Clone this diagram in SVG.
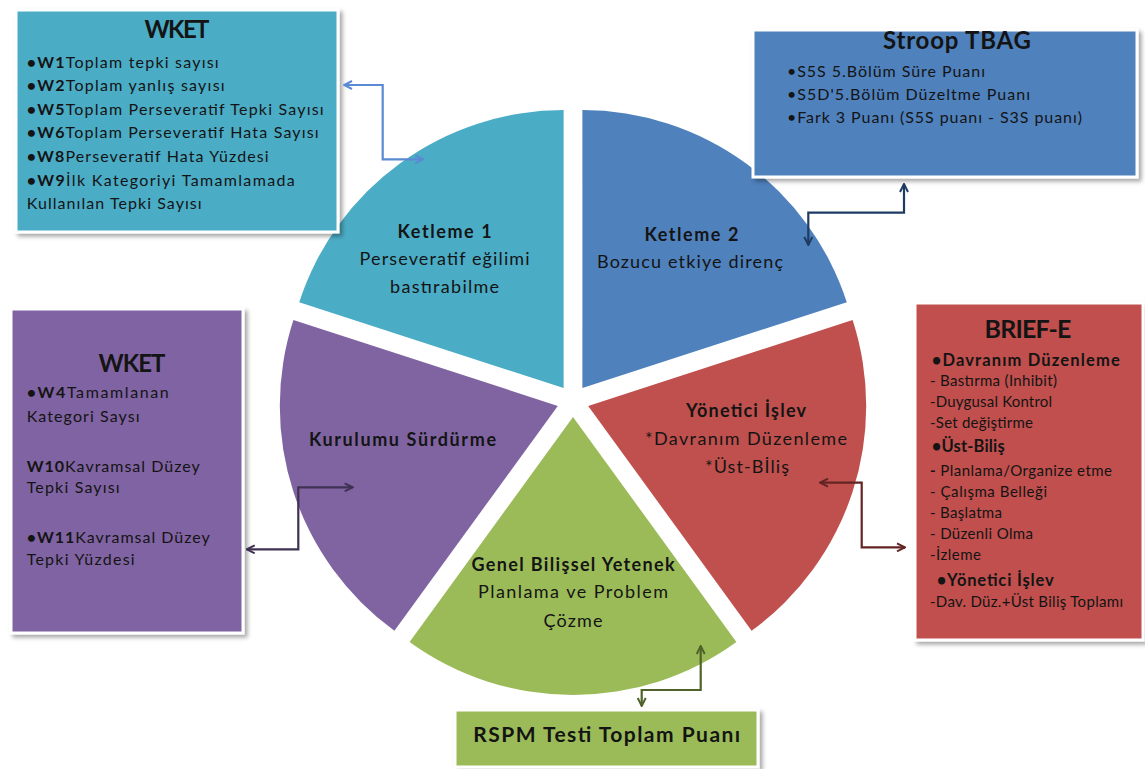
<svg xmlns="http://www.w3.org/2000/svg" width="1145" height="769" viewBox="0 0 1145 769">
<style>
.t{font-family:Lato,"Liberation Sans",Arial,sans-serif;fill:#141414}
.b{font-weight:bold}
.box{stroke:#ffffff;stroke-width:3;filter:url(#sh)}
.c{fill:none;stroke-width:2.2;stroke-linejoin:miter}
.s15{font-size:16px}.s14{font-size:15px}.s16{font-size:16.5px}.s17{font-size:18px}.s23{font-size:24px}
.m{text-anchor:middle}
</style>
<defs>
<filter id="sh" x="-10%" y="-10%" width="125%" height="125%"><feDropShadow dx="3" dy="3" stdDeviation="2" flood-color="#000" flood-opacity="0.35"/></filter>
<marker id="aT" viewBox="0 0 10 10" refX="9" refY="5" markerWidth="10" markerHeight="10" markerUnits="userSpaceOnUse" orient="auto-start-reverse"><path d="M1,1 L9,5 L1,9" fill="none" stroke="#5A8AD2" stroke-width="2"/></marker>
<marker id="aB" viewBox="0 0 10 10" refX="9" refY="5" markerWidth="10" markerHeight="10" markerUnits="userSpaceOnUse" orient="auto-start-reverse"><path d="M1,1 L9,5 L1,9" fill="none" stroke="#1F3B63" stroke-width="2"/></marker>
<marker id="aP" viewBox="0 0 10 10" refX="9" refY="5" markerWidth="10" markerHeight="10" markerUnits="userSpaceOnUse" orient="auto-start-reverse"><path d="M1,1 L9,5 L1,9" fill="none" stroke="#3F3151" stroke-width="2"/></marker>
<marker id="aR" viewBox="0 0 10 10" refX="9" refY="5" markerWidth="10" markerHeight="10" markerUnits="userSpaceOnUse" orient="auto-start-reverse"><path d="M1,1 L9,5 L1,9" fill="none" stroke="#632523" stroke-width="2"/></marker>
<marker id="aG" viewBox="0 0 10 10" refX="9" refY="5" markerWidth="10" markerHeight="10" markerUnits="userSpaceOnUse" orient="auto-start-reverse"><path d="M1,1 L9,5 L1,9" fill="none" stroke="#4F6228" stroke-width="2"/></marker>
</defs>
<rect width="1145" height="769" fill="#ffffff"/>

<g id="pie-ketleme1">
<path d="M563.6,388.1 L299.2,302.2 A278,278 0 0 1 563.6,110.1 Z" fill="#4BACC6"/>
<text class="t b s17 m" x="444.6" y="237.5" textLength="94" lengthAdjust="spacing">Ketleme 1</text>
<text class="t s17 m" x="444.6" y="265" textLength="170" lengthAdjust="spacing">Perseveratif eğilimi</text>
<text class="t s17 m" x="444.6" y="293" textLength="109" lengthAdjust="spacing">bastırabilme</text>
</g>
<g id="pie-ketleme2">
<path d="M582.4,388.1 L582.4,110.1 A278,278 0 0 1 846.8,302.2 Z" fill="#4F81BD"/>
<text class="t b s17 m" x="691.4" y="241" textLength="94" lengthAdjust="spacing">Ketleme 2</text>
<text class="t s17 m" x="690" y="268" textLength="186" lengthAdjust="spacing">Bozucu etkiye direnç</text>
</g>
<g id="pie-yonetici">
<path d="M588.2,405.9 L852.6,320 A278,278 0 0 1 751.6,630.8 Z" fill="#C0504D"/>
<text class="t b s17 m" x="746" y="417" textLength="120" lengthAdjust="spacing">Yönetici İşlev</text>
<text class="t s17 m" x="746" y="444.6" textLength="202" lengthAdjust="spacing">*Davranım Düzenleme</text>
<text class="t s17 m" x="747" y="472.5" textLength="84" lengthAdjust="spacing">*Üst-Bİliş</text>
</g>
<g id="pie-genel">
<path d="M573,417 L736.4,641.9 A278,278 0 0 1 409.6,641.9 Z" fill="#9BBB59"/>
<text class="t b s17 m" x="573" y="571.4" textLength="203" lengthAdjust="spacing">Genel Bilişsel Yetenek</text>
<text class="t s17 m" x="573" y="598.3" textLength="190" lengthAdjust="spacing">Planlama ve Problem</text>
<text class="t s17 m" x="573" y="626.7" textLength="59" lengthAdjust="spacing">Çözme</text>
</g>
<g id="pie-kurulum">
<path d="M557.8,405.9 L394.4,630.8 A278,278 0 0 1 293.4,320 Z" fill="#8064A2"/>
<text class="t b s17 m" x="402.5" y="446.4" textLength="187" lengthAdjust="spacing">Kurulumu Sürdürme</text>
</g>

<g id="box-wket1">
<rect class="box" x="16" y="10" width="322" height="222" fill="#4BACC6"/>
<text class="t b s23 m" x="177" y="38" textLength="65" lengthAdjust="spacing">WKET</text>
<text class="t s15" x="26.7" y="67.5" textLength="192" lengthAdjust="spacing"><tspan class="b">•W1</tspan>Toplam tepki sayısı</text>
<text class="t s15" x="26.7" y="91" textLength="198" lengthAdjust="spacing"><tspan class="b">•W2</tspan>Toplam yanlış sayısı</text>
<text class="t s15" x="26.7" y="114.7" textLength="297" lengthAdjust="spacing"><tspan class="b">•W5</tspan>Toplam Perseveratif Tepki Sayısı</text>
<text class="t s15" x="26.7" y="138.3" textLength="292" lengthAdjust="spacing"><tspan class="b">•W6</tspan>Toplam Perseveratif Hata Sayısı</text>
<text class="t s15" x="26.7" y="162" textLength="242" lengthAdjust="spacing"><tspan class="b">•W8</tspan>Perseveratif Hata Yüzdesi</text>
<text class="t s15" x="26.7" y="185.7" textLength="268" lengthAdjust="spacing"><tspan class="b">•W9</tspan>İlk Kategoriyi  Tamamlamada</text>
<text class="t s15" x="26.7" y="209.3" textLength="175" lengthAdjust="spacing">Kullanılan Tepki Sayısı</text>
</g>

<g id="box-stroop">
<rect class="box" x="753" y="30" width="384" height="147" fill="#4F81BD"/>
<text class="t b s23 m" x="957" y="49" textLength="148" lengthAdjust="spacing">Stroop TBAG</text>
<text class="t s15" x="787" y="76.7" textLength="198" lengthAdjust="spacing">•S5S 5.Bölüm Süre Puanı</text>
<text class="t s15" x="787" y="100" textLength="243" lengthAdjust="spacing">•S5D'5.Bölüm Düzeltme Puanı</text>
<text class="t s15" x="787" y="123.3" textLength="295" lengthAdjust="spacing">•Fark 3 Puanı (S5S puanı - S3S puanı)</text>
</g>

<g id="box-brief">
<rect class="box" x="915" y="303" width="228" height="337" fill="#C0504D"/>
<text class="t b m" style="font-size:25px" x="1028" y="338" textLength="87" lengthAdjust="spacing">BRIEF-E</text>
<text class="t b s16" x="931.7" y="366" textLength="188" lengthAdjust="spacing">•Davranım  Düzenleme</text>
<text class="t s14" x="930" y="386" textLength="127" lengthAdjust="spacing">- Bastırma (Inhibit)</text>
<text class="t s14" x="930" y="407.3" textLength="122" lengthAdjust="spacing">-Duygusal Kontrol</text>
<text class="t s14" x="930" y="428.3" textLength="103" lengthAdjust="spacing">-Set değiştirme</text>
<text class="t b s16" x="931.7" y="451.7" textLength="73" lengthAdjust="spacing">•Üst-Biliş</text>
<text class="t s14" x="930" y="476" textLength="182" lengthAdjust="spacing"><tspan class="b">-</tspan>  Planlama/Organize etme</text>
<text class="t s14" x="930" y="496.7" textLength="117" lengthAdjust="spacing">- Çalışma  Belleği</text>
<text class="t s14" x="930" y="518.3" textLength="72" lengthAdjust="spacing">- Başlatma</text>
<text class="t s14" x="930" y="539.3" textLength="103" lengthAdjust="spacing">- Düzenli  Olma</text>
<text class="t s14" x="930" y="560" textLength="51" lengthAdjust="spacing">-İzleme</text>
<text class="t b s16" x="936.7" y="586" textLength="117" lengthAdjust="spacing">•Yönetici İşlev</text>
<text class="t s14" x="930" y="606.7" textLength="193" lengthAdjust="spacing">-Dav. Düz.+Üst Biliş Toplamı</text>
</g>

<g id="box-wket2">
<rect class="box" x="11" y="309" width="232" height="324" fill="#8064A2"/>
<text class="t b s23 m" x="132" y="372" textLength="67" lengthAdjust="spacing">WKET</text>
<text class="t s15" x="26.7" y="397.7" textLength="142" lengthAdjust="spacing"><tspan class="b">•W4</tspan>Tamamlanan</text>
<text class="t s15" x="26.7" y="421.7" textLength="113" lengthAdjust="spacing">Kategori Saysı</text>
<text class="t s15" x="26.7" y="471.7" textLength="173" lengthAdjust="spacing"><tspan class="b">W10</tspan>Kavramsal Düzey</text>
<text class="t s15" x="26.7" y="493.3" textLength="93" lengthAdjust="spacing">Tepki Sayısı</text>
<text class="t s15" x="26.7" y="543.3" textLength="183" lengthAdjust="spacing"><tspan class="b">•W11</tspan>Kavramsal Düzey</text>
<text class="t s15" x="26.7" y="565" textLength="108" lengthAdjust="spacing">Tepki Yüzdesi</text>
</g>

<g id="box-rspm">
<rect class="box" x="455" y="710" width="303" height="57" fill="#9BBB59"/>
<text class="t b m" style="font-size:21px" x="606.7" y="741.7" textLength="267" lengthAdjust="spacing">RSPM Testi Toplam Puanı</text>
</g>

<g id="connectors">
<path class="c" stroke="#5A8AD2" d="M344,85 H382.7 V159.3 H423.3" marker-start="url(#aT)" marker-end="url(#aT)"/>
<path class="c" stroke="#1F3B63" d="M904,184 V212.7 H808.3 V245" marker-start="url(#aB)" marker-end="url(#aB)"/>
<path class="c" stroke="#3F3151" d="M352.7,487.3 H298.3 V549.3 H246.7" marker-start="url(#aP)" marker-end="url(#aP)"/>
<path class="c" stroke="#632523" d="M820,482.7 H861.7 V547.3 H905" marker-start="url(#aR)" marker-end="url(#aR)"/>
<path class="c" stroke="#4F6228" d="M700.7,646 V690 H641.7 V706" marker-start="url(#aG)" marker-end="url(#aG)"/>
</g>
</svg>
